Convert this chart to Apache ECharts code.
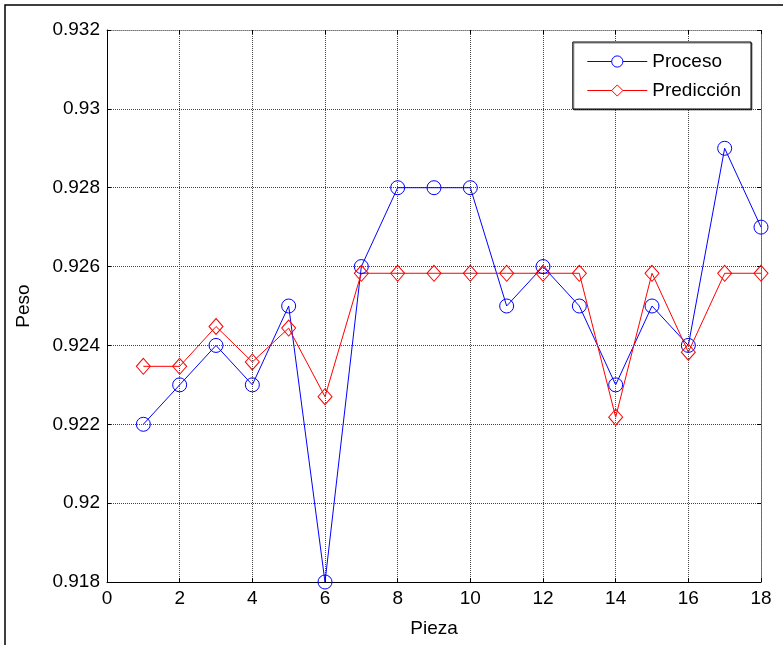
<!DOCTYPE html>
<html>
<head>
<meta charset="utf-8">
<script src="https://cdn.jsdelivr.net/npm/echarts@6/dist/echarts.min.js"></script>
<style>
  html, body { margin: 0; padding: 0; background: #fff; }
  #chart { width: 783px; height: 645px; }
</style>
</head>
<body>
<div id="chart"></div>
<script>
// piezas 1..18
const pieza = [1, 2, 3, 4, 5, 6, 7, 8, 9, 10, 11, 12, 13, 14, 15, 16, 17, 18];
const proceso = [0.922, 0.923, 0.924, 0.923, 0.925, 0.918, 0.926, 0.928, 0.928,
  0.928, 0.925, 0.926, 0.925, 0.923, 0.925, 0.924, 0.929, 0.927];
const prediccion = [0.92347, 0.92347, 0.92448, 0.92358, 0.92444, 0.9227, 0.92583, 0.92583, 0.92583,
  0.92583, 0.92583, 0.92583, 0.92583, 0.92218, 0.92583, 0.92383, 0.92583, 0.92583];
const xTicks = { min: 0, max: 18, step: 2 };
const yTicks = { min: 0.918, max: 0.932, step: 0.002 };

const font = 'Liberation Sans, Arial, sans-serif';
const pairs = (ys) => pieza.map((x, i) => [x, ys[i]]);

const myChart = echarts.init(document.getElementById('chart'));

const option = {
  backgroundColor: '#fff',
  animation: false,
  textStyle: { fontFamily: font },
  graphic: [{
    type: 'rect',
    shape: { x: 5, y: 5, width: 900, height: 800 },
    style: { fill: null, stroke: '#000', lineWidth: 1.5 },
    silent: true,
  }],
  grid: { left: 107, right: 22, top: 30, bottom: 63 },
  legend: {
    orient: 'vertical',
    right: 32,
    top: 42,
    itemWidth: 60,
    itemHeight: 14,
    itemGap: 10,
    padding: [10, 10, 9, 14],
    backgroundColor: '#fff',
    borderColor: '#000',
    borderWidth: 1,
    shadowColor: 'rgba(0,0,0,0.5)',
    shadowOffsetX: 1,
    shadowOffsetY: 1,
    textStyle: { fontSize: 19, color: '#000', fontFamily: font },
    data: [{
      name: 'Proceso',
      itemStyle: { color: '#fff', borderColor: '#0000ff', borderWidth: 1 },
      lineStyle: { width: 1 },
    }, {
      name: 'Predicción',
      itemStyle: { color: '#fff', borderColor: '#ff0000', borderWidth: 1 },
      lineStyle: { width: 1 },
    }],
  },
  xAxis: [{
    type: 'value',
    min: xTicks.min,
    max: xTicks.max,
    interval: xTicks.step,
    name: 'Pieza',
    nameLocation: 'middle',
    nameGap: 37,
    nameTextStyle: { fontSize: 19, color: '#000', fontFamily: font },
    axisLine: { onZero: false, lineStyle: { color: '#000', width: 1 } },
    axisTick: { inside: true, length: 4, lineStyle: { color: '#000' } },
    axisLabel: { fontSize: 19, color: '#000', margin: 7, fontFamily: font },
    splitLine: { show: true, lineStyle: { color: '#444', type: [1, 1], width: 1 } },
  }, {
    type: 'value',
    position: 'top',
    min: xTicks.min,
    max: xTicks.max,
    interval: xTicks.step,
    axisLine: { onZero: false, lineStyle: { color: '#777', type: [1, 1] } },
    axisTick: { inside: true, length: 4, lineStyle: { color: '#000' } },
    axisLabel: { show: false },
    splitLine: { show: false },
  }],
  yAxis: [{
    type: 'value',
    min: yTicks.min,
    max: yTicks.max,
    interval: yTicks.step,
    name: 'Peso',
    nameLocation: 'middle',
    nameGap: 74,
    nameTextStyle: { fontSize: 19, color: '#000', fontFamily: font },
    axisLine: { show: true, onZero: false, lineStyle: { color: '#000', width: 1 } },
    axisTick: { show: true, inside: true, length: 4, lineStyle: { color: '#000' } },
    axisLabel: {
      fontSize: 19,
      color: '#000',
      margin: 7,
      fontFamily: font,
      formatter: (v) => String(+v.toFixed(3)),
    },
    splitLine: { show: true, lineStyle: { color: '#444', type: [1, 1], width: 1 } },
  }, {
    type: 'value',
    position: 'right',
    min: yTicks.min,
    max: yTicks.max,
    interval: yTicks.step,
    axisLine: { show: true, onZero: false, lineStyle: { color: '#777', type: [1, 1] } },
    axisTick: { show: true, inside: true, length: 4, lineStyle: { color: '#000' } },
    axisLabel: { show: false },
    splitLine: { show: false },
  }],
  series: [{
    name: 'Proceso',
    type: 'line',
    data: pairs(proceso),
    symbol: 'circle',
    symbolSize: 14,
    lineStyle: { color: '#0000ff', width: 1 },
    itemStyle: { color: 'rgba(0,0,0,0)', borderColor: '#0000ff', borderWidth: 1 },
  }, {
    name: 'Predicción',
    type: 'line',
    data: pairs(prediccion),
    symbol: 'diamond',
    symbolSize: [14, 16],
    lineStyle: { color: '#ff0000', width: 1 },
    itemStyle: { color: 'rgba(0,0,0,0)', borderColor: '#ff0000', borderWidth: 1 },
  }],
};

myChart.setOption(option);
</script>
</body>
</html>
